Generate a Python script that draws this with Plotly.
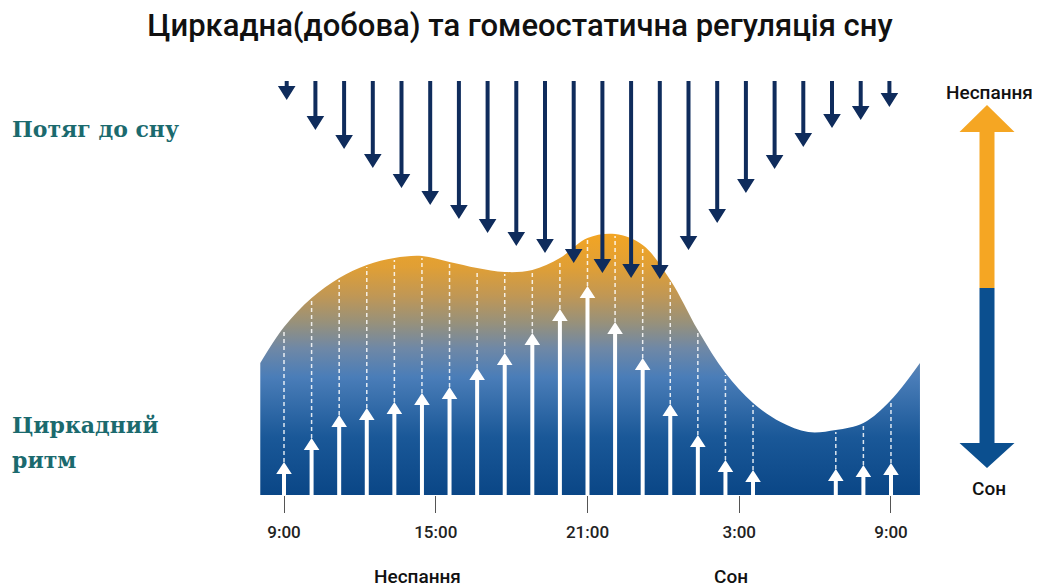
import numpy as np
import plotly.graph_objects as go

# ---------------- data ----------------
# x axis unit = one arrow slot (22 slots span 9:00 -> 9:00 next day)
tick_hours = [0, 6, 12, 18, 24]
tick_labels = ["9:00", "15:00", "21:00", "3:00", "9:00"]
slots_per_day = 22

# circadian rhythm curve (alerting signal), arbitrary units
circ_slots = [-0.86, 0, 1, 2, 3, 4, 5, 6, 7, 8, 9, 10, 11, 12, 13, 14, 15, 16, 17, 18, 19, 20, 21, 22, 23.05]
circ_level = [132, 168, 197, 217, 230, 237, 239, 233, 227, 223, 225, 237, 257, 261, 250, 215, 165, 122, 92, 73, 63, 65, 72, 95, 132]

# white up arrows (circadian drive)
up_slots = [0, 1, 2, 3, 4, 5, 6, 7, 8, 9, 10, 11, 12, 13, 14, 15, 16, 17, 20, 21, 22]
up_level = [33, 57, 80, 87, 93, 102, 108, 127, 142, 162, 186, 209, 173, 137, 91, 60, 35, 25, 26, 30, 32]

# navy down arrows (homeostatic sleep pressure): arrow tips, arrows hang from a common top
sleep_top = 414
sleep_tip = [395, 365, 346, 327, 307, 290, 276, 262, 249, 242, 232, 222, 217, 216, 245, 272, 302, 326, 348, 367, 375, 388]

# ---------------- geometry helpers ----------------
OFF = 8                      # default body margin of the html page
W, H = 1040 - OFF, 587 - OFF
PLOT_L, PLOT_R, PLOT_T, PLOT_B = 260, 1030, 60, 495   # reference-pixel frame
ML, MR = PLOT_L - OFF, 1040 - PLOT_R
MT, MB = PLOT_T - OFF, 587 - PLOT_B
PX_PER_SLOT = 27.59
X0_PX = 284.0  # reference pixel of slot 0
x_lo = (PLOT_L - X0_PX) / PX_PER_SLOT
x_hi = (PLOT_R - X0_PX) / PX_PER_SLOT
y_hi = PLOT_B - PLOT_T  # 1 unit = 1 px


def px_x(px):
    return (px - X0_PX) / PX_PER_SLOT


def px_y(py):
    return PLOT_B - py


def dx(px):
    return px / PX_PER_SLOT


def paper_x(px):
    return (px - PLOT_L) / (PLOT_R - PLOT_L)


def paper_y(py):
    return (PLOT_B - py) / (PLOT_B - PLOT_T)


NAVY = "#0f2c5c"
fig = go.Figure()

# circadian area with vertical gradient
fig.add_trace(go.Scatter(
    x=circ_slots, y=circ_level, mode="lines",
    line=dict(shape="spline", smoothing=1.0, width=0, color="rgba(0,0,0,0)"),
    fill="tozeroy",
    fillgradient=dict(
        type="vertical", start=0, stop=262,
        colorscale=[[0.0, "#0a4686"], [0.22, "#1a5898"], [0.45, "#4a7db8"],
                    [0.56, "#6f88a6"], [0.66, "#98917a"], [0.76, "#c09755"],
                    [0.87, "#e09f35"], [1.0, "#f3a523"]]),
    hoverinfo="skip", showlegend=False))

circ_map = dict(zip(circ_slots, circ_level))

# dashed guide lines from each up arrow to the curve
dx_list, dy_list = [], []
for s, lv in zip(up_slots, up_level):
    dx_list += [s, s, None]
    dy_list += [lv, circ_map[s] - 2, None]
fig.add_trace(go.Scatter(x=dx_list, y=dy_list, mode="lines",
                         line=dict(color="rgba(255,255,255,0.85)", width=1.5, dash="4px,3px"),
                         hoverinfo="skip", showlegend=False))

# up arrows
UH, UHW = 12, dx(7.8)
sx, sy, hx, hy = [], [], [], []
for s, lv in zip(up_slots, up_level):
    sx += [s, s, None]
    sy += [0, lv - UH + 1, None]
    hx += [s - UHW, s + UHW, s, s - UHW, None]
    hy += [lv - UH, lv - UH, lv, lv - UH, None]
fig.add_trace(go.Scatter(x=sx, y=sy, mode="lines", line=dict(color="white", width=4),
                         hoverinfo="skip", showlegend=False))
fig.add_trace(go.Scatter(x=hx, y=hy, mode="lines", fill="toself", fillcolor="white",
                         line=dict(width=0, color="white"), hoverinfo="skip", showlegend=False))

# down arrows
down_slots = np.linspace(px_x(286.7), px_x(889.4), len(sleep_tip))
DH, DHW = 14, dx(8.8)
sx, sy, hx, hy = [], [], [], []
for s, tp in zip(down_slots, sleep_tip):
    sx += [s, s, None]
    sy += [sleep_top, tp + DH - 1, None]
    hx += [s - DHW, s + DHW, s, s - DHW, None]
    hy += [tp + DH, tp + DH, tp, tp + DH, None]
fig.add_trace(go.Scatter(x=sx, y=sy, mode="lines", line=dict(color=NAVY, width=4),
                         hoverinfo="skip", showlegend=False))
fig.add_trace(go.Scatter(x=hx, y=hy, mode="lines", fill="toself", fillcolor=NAVY,
                         line=dict(width=0, color=NAVY), hoverinfo="skip", showlegend=False))

# right-hand wake/sleep double arrow
cx = px_x(987)
sw = dx(7.5)
hw = dx(27.5)
top_tip, top_base, mid, bot_base, bot_tip = px_y(105), px_y(132), px_y(288), px_y(443), px_y(468)
fig.add_trace(go.Scatter(
    x=[cx - sw, cx - sw, cx - hw, cx, cx + hw, cx + sw, cx + sw, cx - sw],
    y=[mid, top_base, top_base, top_tip, top_base, top_base, mid, mid],
    mode="lines", fill="toself", fillcolor="#f5a623", line=dict(width=0, color="#f5a623"),
    hoverinfo="skip", showlegend=False))
fig.add_trace(go.Scatter(
    x=[cx - sw, cx - sw, cx - hw, cx, cx + hw, cx + sw, cx + sw, cx - sw],
    y=[mid, bot_base, bot_base, bot_tip, bot_base, bot_base, mid, mid],
    mode="lines", fill="toself", fillcolor="#0b4f8f", line=dict(width=0, color="#0b4f8f"),
    hoverinfo="skip", showlegend=False))

ann = []


def add_text(px, py, text, font, xanchor="center", align="center"):
    ann.append(dict(x=paper_x(px), y=paper_y(py), xref="paper", yref="paper", text=text,
                    showarrow=False, font=font, xanchor=xanchor, yanchor="middle", align=align))


lab_font = dict(family="Roboto", size=19, color="#111111", weight=500)
add_text(989, 92, "Неспання", lab_font)
add_text(989, 488, "Сон", lab_font)

side_font = dict(family="DejaVu Serif", size=22, color="#1b6a6e", weight=700)
add_text(10, 129, "Потяг до сну", side_font, xanchor="left", align="left")
add_text(10, 425, "Циркадний", side_font, xanchor="left", align="left")
add_text(10, 460, "ритм", side_font, xanchor="left", align="left")

bottom_font = dict(family="Roboto", size=19, color="#111111", weight=500)
add_text(417, 576, "Неспання", bottom_font)
add_text(731, 576, "Сон", bottom_font)

fig.update_layout(
    width=W, height=H,
    margin=dict(l=ML, r=MR, t=MT, b=MB),
    paper_bgcolor="white", plot_bgcolor="white",
    title=dict(text="Циркадна(добова) та гомеостатична регуляція сну",
               x=(520 - OFF) / W, xref="container", xanchor="center",
               y=1 - (25 - OFF) / H, yref="container", yanchor="middle",
               font=dict(family="Roboto", size=31, color="#111111", weight=500)),
    xaxis=dict(range=[x_lo, x_hi], showgrid=False, zeroline=False, showline=False,
               tickvals=[h * slots_per_day / 24 for h in tick_hours], ticktext=tick_labels,
               ticks="outside", ticklen=17, tickwidth=1, tickcolor="#555555",
               ticklabelstandoff=5,
               tickfont=dict(family="Roboto", size=17, color="#222222", weight=500),
               fixedrange=True),
    yaxis=dict(range=[0, y_hi], visible=False, fixedrange=True),
    annotations=ann,
    showlegend=False,
)

fig.write_html("out.html")
